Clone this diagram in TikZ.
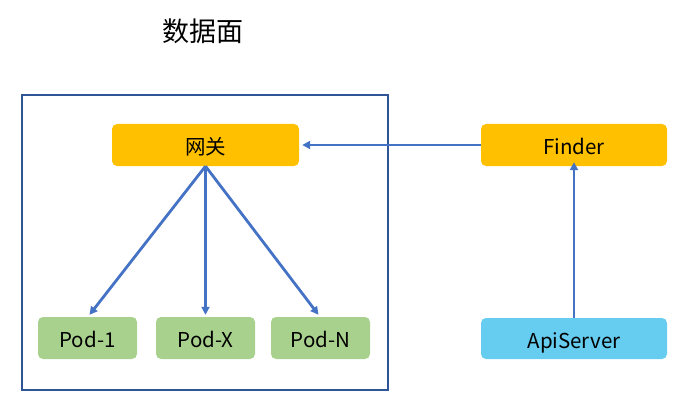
\documentclass[tikz,border=0pt]{standalone}
\usepackage{fontspec}
\setmainfont{Noto Sans CJK SC}
\definecolor{PlaneBlue}{HTML}{2F5597}
\definecolor{FlowBlue}{HTML}{4472C4}
\definecolor{GateGold}{HTML}{FFC000}
\definecolor{PodGreen}{HTML}{A9D18E}
\definecolor{ApiCyan}{HTML}{66CCF0}
\usetikzlibrary{arrows.meta,positioning}

\tikzset{
  box/.style={
    rounded corners=5pt,
    minimum height=42pt,
    inner sep=0pt,
    text height=19pt,
    text depth=0pt,
    font=\fontsize{20.5}{24}\selectfont
  },
  flow/.style={
    draw=FlowBlue,
    line width=2.8pt,
    -{Triangle[length=8pt,width=8pt]}
  }
}

\begin{document}
\begin{tikzpicture}[x=1pt,y=-1pt]
    \useasboundingbox (0,0) rectangle (689,412);

    % title and data plane frame
    \node[font=\fontsize{27}{30}\selectfont] (title) at (203,31) {数据面};
    \draw[PlaneBlue, line width=2.2pt] (22,95) rectangle (388,390);

    % gateway and finder
    \node[box, fill=GateGold, minimum width=187pt] (gw) at (205.5,145) {网关};
    \node[box, fill=GateGold, minimum width=186pt] (finder) at (574,145) {Finder};
    \node[box, fill=ApiCyan, minimum width=186pt, minimum height=41pt] (api) at (574,338.5) {ApiServer};

    % pods
    \node[box, fill=PodGreen, minimum width=99pt] (pod1) at (87.5,338) {Pod-1};
    \node[box, fill=PodGreen, minimum width=99pt] (podx) at (205.5,338) {Pod-X};
    \node[box, fill=PodGreen, minimum width=99pt] (podn) at (320.5,338) {Pod-N};

    % connectors
    \draw[flow] (gw.south) -- ([xshift=2pt,yshift=2pt]pod1.north);
    \draw[flow] (gw.south) -- ([yshift=2pt]podx.north);
    \draw[flow] (gw.south) -- ([xshift=-2pt,yshift=2pt]podn.north);
    \draw[flow] (finder.west) -- ([xshift=3pt]gw.east);
    \draw[flow] (api.north) -- ([yshift=4pt]finder.south);
  \end{tikzpicture}
\end{document}
